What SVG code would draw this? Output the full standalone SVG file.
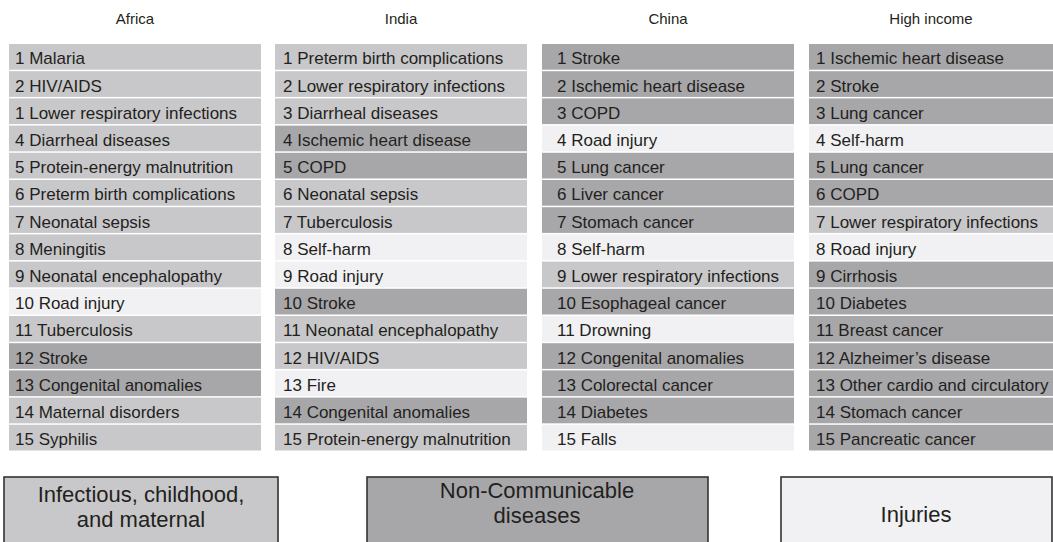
<svg xmlns="http://www.w3.org/2000/svg" width="1053" height="542" viewBox="0 0 1053 542">
<style>
text{font-family:"Liberation Sans",Arial,Helvetica,sans-serif;fill:#231f20}
.t{font-size:17px}
.h{font-size:15px;text-anchor:middle}
.lg{font-size:22px;text-anchor:middle}
.I{fill:#c8c8ca}
.N{fill:#a7a7aa}
.J{fill:#f1f1f3}
.box{stroke:#333;stroke-width:1.6}
</style>
<rect width="1053" height="542" fill="#fff"/>
<g id="headers">
<text class="h" x="135" y="24">Africa</text>
<text class="h" x="401" y="24">India</text>
<text class="h" x="668" y="24">China</text>
<text class="h" x="931" y="24">High income</text>
</g>
<g id="africa">
<g id="af1"><rect class="I" x="9" y="44" width="252" height="25.7"/><text class="t" x="15" y="64.3">1 Malaria</text></g>
<g id="af2"><rect class="I" x="9" y="71.2" width="252" height="25.7"/><text class="t" x="15" y="91.5">2 HIV/AIDS</text></g>
<g id="af3"><rect class="I" x="9" y="98.4" width="252" height="25.7"/><text class="t" x="15" y="118.7">1 Lower respiratory infections</text></g>
<g id="af4"><rect class="I" x="9" y="125.6" width="252" height="25.7"/><text class="t" x="15" y="145.9">4 Diarrheal diseases</text></g>
<g id="af5"><rect class="I" x="9" y="152.8" width="252" height="25.7"/><text class="t" x="15" y="173.1">5 Protein-energy malnutrition</text></g>
<g id="af6"><rect class="I" x="9" y="180" width="252" height="25.7"/><text class="t" x="15" y="200.3">6 Preterm birth complications</text></g>
<g id="af7"><rect class="I" x="9" y="207.2" width="252" height="25.7"/><text class="t" x="15" y="227.5">7 Neonatal sepsis</text></g>
<g id="af8"><rect class="I" x="9" y="234.4" width="252" height="25.7"/><text class="t" x="15" y="254.7">8 Meningitis</text></g>
<g id="af9"><rect class="I" x="9" y="261.6" width="252" height="25.7"/><text class="t" x="15" y="281.9">9 Neonatal encephalopathy</text></g>
<g id="af10"><rect class="J" x="9" y="288.8" width="252" height="25.7"/><text class="t" x="15" y="309.1">10 Road injury</text></g>
<g id="af11"><rect class="I" x="9" y="316" width="252" height="25.7"/><text class="t" x="15" y="336.3">11 Tuberculosis</text></g>
<g id="af12"><rect class="N" x="9" y="343.2" width="252" height="25.7"/><text class="t" x="15" y="363.5">12 Stroke</text></g>
<g id="af13"><rect class="N" x="9" y="370.4" width="252" height="25.7"/><text class="t" x="15" y="390.7">13 Congenital anomalies</text></g>
<g id="af14"><rect class="I" x="9" y="397.6" width="252" height="25.7"/><text class="t" x="15" y="417.9">14 Maternal disorders</text></g>
<g id="af15"><rect class="I" x="9" y="424.8" width="252" height="25.7"/><text class="t" x="15" y="445.1">15 Syphilis</text></g>
</g>
<g id="india">
<g id="in1"><rect class="I" x="275" y="44" width="252" height="25.7"/><text class="t" x="283" y="64.3">1 Preterm birth complications</text></g>
<g id="in2"><rect class="I" x="275" y="71.2" width="252" height="25.7"/><text class="t" x="283" y="91.5">2 Lower respiratory infections</text></g>
<g id="in3"><rect class="I" x="275" y="98.4" width="252" height="25.7"/><text class="t" x="283" y="118.7">3 Diarrheal diseases</text></g>
<g id="in4"><rect class="N" x="275" y="125.6" width="252" height="25.7"/><text class="t" x="283" y="145.9">4 Ischemic heart disease</text></g>
<g id="in5"><rect class="N" x="275" y="152.8" width="252" height="25.7"/><text class="t" x="283" y="173.1">5 COPD</text></g>
<g id="in6"><rect class="I" x="275" y="180" width="252" height="25.7"/><text class="t" x="283" y="200.3">6 Neonatal sepsis</text></g>
<g id="in7"><rect class="I" x="275" y="207.2" width="252" height="25.7"/><text class="t" x="283" y="227.5">7 Tuberculosis</text></g>
<g id="in8"><rect class="J" x="275" y="234.4" width="252" height="25.7"/><text class="t" x="283" y="254.7">8 Self-harm</text></g>
<g id="in9"><rect class="J" x="275" y="261.6" width="252" height="25.7"/><text class="t" x="283" y="281.9">9 Road injury</text></g>
<g id="in10"><rect class="N" x="275" y="288.8" width="252" height="25.7"/><text class="t" x="283" y="309.1">10 Stroke</text></g>
<g id="in11"><rect class="I" x="275" y="316" width="252" height="25.7"/><text class="t" x="283" y="336.3">11 Neonatal encephalopathy</text></g>
<g id="in12"><rect class="I" x="275" y="343.2" width="252" height="25.7"/><text class="t" x="283" y="363.5">12 HIV/AIDS</text></g>
<g id="in13"><rect class="J" x="275" y="370.4" width="252" height="25.7"/><text class="t" x="283" y="390.7">13 Fire</text></g>
<g id="in14"><rect class="N" x="275" y="397.6" width="252" height="25.7"/><text class="t" x="283" y="417.9">14 Congenital anomalies</text></g>
<g id="in15"><rect class="I" x="275" y="424.8" width="252" height="25.7"/><text class="t" x="283" y="445.1">15 Protein-energy malnutrition</text></g>
</g>
<g id="china">
<g id="cn1"><rect class="N" x="542" y="44" width="252" height="25.7"/><text class="t" x="557" y="64.3">1 Stroke</text></g>
<g id="cn2"><rect class="N" x="542" y="71.2" width="252" height="25.7"/><text class="t" x="557" y="91.5">2 Ischemic heart disease</text></g>
<g id="cn3"><rect class="N" x="542" y="98.4" width="252" height="25.7"/><text class="t" x="557" y="118.7">3 COPD</text></g>
<g id="cn4"><rect class="J" x="542" y="125.6" width="252" height="25.7"/><text class="t" x="557" y="145.9">4 Road injury</text></g>
<g id="cn5"><rect class="N" x="542" y="152.8" width="252" height="25.7"/><text class="t" x="557" y="173.1">5 Lung cancer</text></g>
<g id="cn6"><rect class="N" x="542" y="180" width="252" height="25.7"/><text class="t" x="557" y="200.3">6 Liver cancer</text></g>
<g id="cn7"><rect class="N" x="542" y="207.2" width="252" height="25.7"/><text class="t" x="557" y="227.5">7 Stomach cancer</text></g>
<g id="cn8"><rect class="J" x="542" y="234.4" width="252" height="25.7"/><text class="t" x="557" y="254.7">8 Self-harm</text></g>
<g id="cn9"><rect class="I" x="542" y="261.6" width="252" height="25.7"/><text class="t" x="557" y="281.9">9 Lower respiratory infections</text></g>
<g id="cn10"><rect class="N" x="542" y="288.8" width="252" height="25.7"/><text class="t" x="557" y="309.1">10 Esophageal cancer</text></g>
<g id="cn11"><rect class="J" x="542" y="316" width="252" height="25.7"/><text class="t" x="557" y="336.3">11 Drowning</text></g>
<g id="cn12"><rect class="N" x="542" y="343.2" width="252" height="25.7"/><text class="t" x="557" y="363.5">12 Congenital anomalies</text></g>
<g id="cn13"><rect class="N" x="542" y="370.4" width="252" height="25.7"/><text class="t" x="557" y="390.7">13 Colorectal cancer</text></g>
<g id="cn14"><rect class="N" x="542" y="397.6" width="252" height="25.7"/><text class="t" x="557" y="417.9">14 Diabetes</text></g>
<g id="cn15"><rect class="J" x="542" y="424.8" width="252" height="25.7"/><text class="t" x="557" y="445.1">15 Falls</text></g>
</g>
<g id="highincome">
<g id="hi1"><rect class="N" x="809" y="44" width="252" height="25.7"/><text class="t" x="816" y="64.3">1 Ischemic heart disease</text></g>
<g id="hi2"><rect class="N" x="809" y="71.2" width="252" height="25.7"/><text class="t" x="816" y="91.5">2 Stroke</text></g>
<g id="hi3"><rect class="N" x="809" y="98.4" width="252" height="25.7"/><text class="t" x="816" y="118.7">3 Lung cancer</text></g>
<g id="hi4"><rect class="J" x="809" y="125.6" width="252" height="25.7"/><text class="t" x="816" y="145.9">4 Self-harm</text></g>
<g id="hi5"><rect class="N" x="809" y="152.8" width="252" height="25.7"/><text class="t" x="816" y="173.1">5 Lung cancer</text></g>
<g id="hi6"><rect class="N" x="809" y="180" width="252" height="25.7"/><text class="t" x="816" y="200.3">6 COPD</text></g>
<g id="hi7"><rect class="I" x="809" y="207.2" width="252" height="25.7"/><text class="t" x="816" y="227.5">7 Lower respiratory infections</text></g>
<g id="hi8"><rect class="J" x="809" y="234.4" width="252" height="25.7"/><text class="t" x="816" y="254.7">8 Road injury</text></g>
<g id="hi9"><rect class="N" x="809" y="261.6" width="252" height="25.7"/><text class="t" x="816" y="281.9">9 Cirrhosis</text></g>
<g id="hi10"><rect class="N" x="809" y="288.8" width="252" height="25.7"/><text class="t" x="816" y="309.1">10 Diabetes</text></g>
<g id="hi11"><rect class="N" x="809" y="316" width="252" height="25.7"/><text class="t" x="816" y="336.3">11 Breast cancer</text></g>
<g id="hi12"><rect class="N" x="809" y="343.2" width="252" height="25.7"/><text class="t" x="816" y="363.5">12 Alzheimer’s disease</text></g>
<g id="hi13"><rect class="N" x="809" y="370.4" width="252" height="25.7"/><text class="t" x="816" y="390.7">13 Other cardio and circulatory</text></g>
<g id="hi14"><rect class="N" x="809" y="397.6" width="252" height="25.7"/><text class="t" x="816" y="417.9">14 Stomach cancer</text></g>
<g id="hi15"><rect class="N" x="809" y="424.8" width="252" height="25.7"/><text class="t" x="816" y="445.1">15 Pancreatic cancer</text></g>
</g>
<g id="connectors"></g>
<g id="legend">
<g id="leg-infectious"><rect class="I box" x="4" y="477" width="274" height="70"/><text class="lg" x="141" y="502">Infectious, childhood,</text><text class="lg" x="141" y="527">and maternal</text></g>
<g id="leg-ncd"><rect class="N box" x="367" y="477" width="341" height="70"/><text class="lg" x="537" y="498">Non-Communicable</text><text class="lg" x="537" y="523">diseases</text></g>
<g id="leg-injuries"><rect class="J box" x="781" y="477" width="271" height="70"/><text class="lg" x="916" y="522">Injuries</text></g>
</g>
</svg>
